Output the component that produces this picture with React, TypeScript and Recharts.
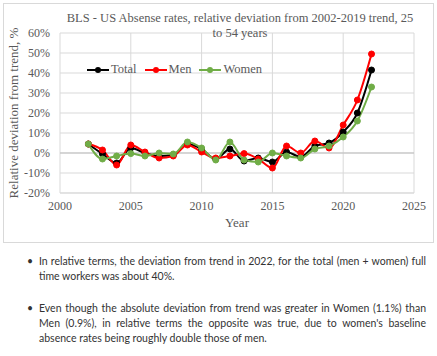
import React from 'react';
import { LineChart, Line, XAxis, YAxis, CartesianGrid, ReferenceLine } from 'recharts';

const years = [2002, 2003, 2004, 2005, 2006, 2007, 2008, 2009, 2010, 2011, 2012, 2013, 2014, 2015, 2016, 2017, 2018, 2019, 2020, 2021, 2022];
const total = [4.5, -0.5, -5, 2.5, 0, -1.5, -1, 4.5, 2, -3, 2, -4, -2.5, -4.5, 0.5, -2, 3.5, 5, 10.5, 20, 41.5];
const men = [4.5, 1.5, -6, 4, 0.5, -2.5, -1.5, 4, 0.5, -2.5, -1.5, -0.3, -3, -7.5, 3.5, 0, 6, 2.5, 14, 26.5, 49.5];
const women = [4.5, -3, -1.5, -0.3, -1.5, 0, -0.5, 5.5, 2.5, -3.5, 5.5, -3.5, -4.5, 0, -1.5, -2.5, 2, 3.5, 8, 16, 33];
const xTicks = [2000, 2005, 2010, 2015, 2020, 2025];
const yTicks = [-20, -10, 0, 10, 20, 30, 40, 50, 60];
const seriesNames = ['Total', 'Men', 'Women'];
const seriesColors = ['#000000', '#ff0000', '#70ad47'];
const titleLines = ['BLS - US Absense rates, relative deviation from 2002-2019 trend, 25', 'to 54 years'];
const bullets = [
  'In relative terms, the deviation from trend in 2022, for the total (men + women) full time workers was about 40%.',
  "Even though the absolute deviation from trend was greater in Women (1.1%) than Men (0.9%), in relative terms the opposite was true, due to women's baseline absence rates being roughly double those of men.",
];

const data = years.map((y, i) => ({ year: y, Total: total[i], Men: men[i], Women: women[i] }));

const serif = '"Liberation Serif", "DejaVu Serif", serif';
const gray = '#595959';

const LegendContent = () => (
  <div style={{ display: 'flex', alignItems: 'center', fontFamily: serif, fontSize: 12.5, color: gray }}>
    {seriesNames.map((n, i) => (
      <div key={n} style={{ display: 'flex', alignItems: 'center', marginRight: 8 }}>
        <svg width={22} height={8} style={{ marginRight: 2 }}>
          <line x1={0} y1={4} x2={22} y2={4} stroke={seriesColors[i]} strokeWidth={2} />
          <circle cx={11} cy={4} r={3} fill={seriesColors[i]} />
        </svg>
        <span>{n}</span>
      </div>
    ))}
  </div>
);

export default function App() {
  return (
    <div style={{ position: 'absolute', left: 0, top: 0, width: 437, height: 356, background: '#fff' }}>
      <div style={{ position: 'absolute', left: 3, top: 3, width: 429, height: 238, border: '1px solid #d9d9d9' }} />
      <div style={{ position: 'absolute', left: 3, top: 3 }}>
        <LineChart width={430} height={239} data={data} margin={{ top: 30, right: 19, left: 0, bottom: 0 }}>
          <CartesianGrid stroke="#d9d9d9" strokeWidth={1} />
          <XAxis
            dataKey="year"
            type="number"
            domain={[2000, 2025]}
            ticks={xTicks}
            interval={0}
            tickLine={false}
            axisLine={{ stroke: '#d9d9d9' }}
            tick={{ fill: gray, fontSize: 12, fontFamily: serif }}
            tickMargin={2}
            height={49}
            label={{ value: 'Year', position: 'insideBottom', offset: 15, fill: gray, fontSize: 13, fontFamily: serif }}
          />
          <YAxis
            type="number"
            domain={[-20, 60]}
            ticks={yTicks}
            interval={0}
            tickFormatter={(v: number) => `${v}%`}
            tickLine={false}
            axisLine={false}
            tick={{ fill: gray, fontSize: 12, fontFamily: serif }}
            tickMargin={4}
            width={57}
            label={{ value: 'Relative deviation from trend, %', angle: -90, position: 'insideLeft', offset: 10, fill: gray, fontSize: 13, fontFamily: serif, style: { textAnchor: 'middle' } }}
          />
          <ReferenceLine y={0} stroke="#bfbfbf" strokeWidth={1} />
          {seriesNames.map((n, i) => (
            <Line
              key={n}
              type="monotone"
              dataKey={n}
              stroke={seriesColors[i]}
              strokeWidth={2}
              dot={{ r: 3, fill: seriesColors[i], stroke: seriesColors[i], strokeWidth: 1 }}
              isAnimationActive={false}
            />
          ))}
        </LineChart>
      </div>
      <div style={{ position: 'absolute', left: 87, top: 62 }}>
        <LegendContent />
      </div>
      <div style={{ position: 'absolute', left: 40, top: 11, width: 400, textAlign: 'center', fontFamily: serif, fontSize: 12.5, color: gray, lineHeight: '15px' }}>
        {titleLines.map((t) => (
          <div key={t}>{t}</div>
        ))}
      </div>
      <div style={{ position: 'absolute', left: 0, top: 254, width: 437, fontFamily: 'Lato, sans-serif', fontSize: 10.5, color: '#333', lineHeight: '15px' }}>
        {bullets.map((b, i) => (
          <div key={i} style={{ position: 'relative', marginLeft: 39, width: 387, textAlign: 'justify', marginBottom: 17 }}>
            <span style={{ position: 'absolute', left: -12, top: 0 }}>•</span>
            {b}
          </div>
        ))}
      </div>
    </div>
  );
}
